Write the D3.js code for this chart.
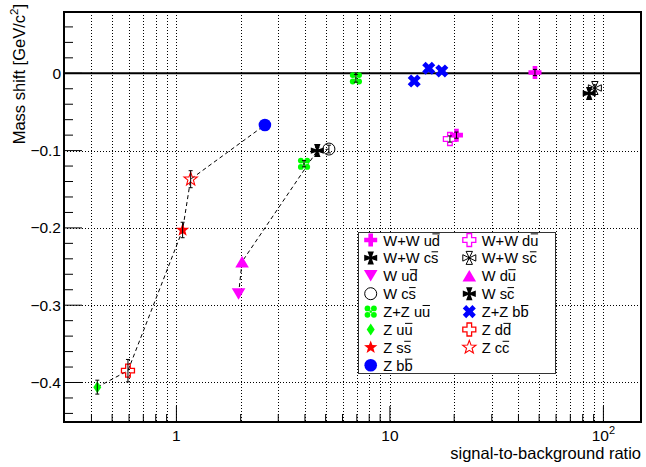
<!DOCTYPE html>
<html><head><meta charset="utf-8">
<script src="https://cdn.jsdelivr.net/npm/d3@7"></script>
<style>
body{margin:0;background:#fff}
svg{display:block}
text{font-family:"Liberation Sans",Arial,Helvetica,sans-serif;fill:#000}
</style>
</head><body>
<svg id="c" width="646" height="467"></svg>
<script>
// ---------------- data ----------------
// legend entries (row-major: left column, right column); {x} = overlined character
const seriesLabels = ["W+W u{d}","W+W d{u}","W+W c{s}","W+W s{c}","W u{d}","W d{u}","W c{s}","W s{c}",
                      "Z+Z u{u}","Z+Z b{b}","Z u{u}","Z d{d}","Z s{s}","Z c{c}","Z b{b}"];
const seriesMarkers = ["fullcross","opencross","pattee","openpattee","tridown","triup","opencircle","pattee",
                       "clover","xcross","diamond","opencross","star","openstar","circle"];
const seriesColors = ["#ff00ff","#ff00ff","#000000","#000000","#ff00ff","#ff00ff","#000000","#000000",
                      "#00ff00","#0000ff","#00ff00","#ff0000","#ff0000","#ff0000","#0000ff"];

// points: series index, signal-to-background ratio, mass shift, error
const pointSeries  = [0, 0, 1, 2, 3, 4, 5, 6, 7, 8, 8, 9, 9, 9, 10, 11, 12, 13, 14];
const sbRatio      = [20.5, 47.8, 19.1, 85.8, 91.2, 1.955, 2.03, 5.18, 4.57, 3.96, 6.93, 13.0, 15.2, 17.5, 0.426, 0.593, 1.069, 1.166, 2.597];
const massShift    = [-0.080, 0.001, -0.085, -0.026, -0.019, -0.2855, -0.2437, -0.098, -0.100, -0.117, -0.0065, -0.010, 0.0065, 0.003, -0.406, -0.3847, -0.2027, -0.137, -0.0669];
const massShiftErr = [0.004, 0.004, 0.004, 0.005, 0.004, 0, 0, 0.005, 0.004, 0.004, 0.005, 0, 0, 0, 0.009, 0.0145, 0.010, 0.011, 0];

// dashed connecting lines (series order)
const zLineSeries = [10, 11, 12, 13, 14];
const wLineSeries = [4, 5, 7, 6];

const xGridValues = [0.4,0.5,0.6,0.7,0.8,0.9,1,2,3,4,5,6,7,8,9,10,20,30,40,50,60,70,80,90,100];
const xMajorTicks = [1, 10, 100];
const xTickLabels = ["1", "10", "10^2"];
const yMajorTicks = [0, -0.1, -0.2, -0.3, -0.4];
const yTickLabels = ["0", "\u22120.1", "\u22120.2", "\u22120.3", "\u22120.4"];

// ---------------- chart ----------------
const svg = d3.select("#c");
const L = 64, R = 641, T = 12, B = 422;
const x = d3.scaleLog().domain([0.2975, 150]).range([L, R]);
const y = d3.scaleLinear().domain([-0.4511, 0.0793]).range([B, T]);

// grid
const grid = svg.append("g").attr("stroke", "#000").attr("stroke-width", 1).attr("stroke-dasharray", "1,2");
grid.selectAll("line.v").data(xGridValues).join("line")
  .attr("x1", d => Math.round(x(d)) + 0.5).attr("x2", d => Math.round(x(d)) + 0.5)
  .attr("y1", T).attr("y2", B);
grid.selectAll("line.h").data(yMajorTicks).join("line")
  .attr("x1", L).attr("x2", R)
  .attr("y1", d => Math.round(y(d)) + 0.5).attr("y2", d => Math.round(y(d)) + 0.5);

// zero line
svg.append("line").attr("x1", L).attr("x2", R).attr("y1", y(0)).attr("y2", y(0))
  .attr("stroke", "#000").attr("stroke-width", 2);

// axis ticks
const ticks = svg.append("g").attr("stroke", "#000").attr("stroke-width", 1);
const xAllTicks = d3.range(3, 10).map(d => d / 10).concat(d3.range(1, 10), d3.range(10, 100, 10), [100]).filter(d => x(d) > L + 1);
ticks.selectAll("line.xt").data(xAllTicks).join("line")
  .attr("x1", d => x(d)).attr("x2", d => x(d))
  .attr("y1", B).attr("y2", d => B - (xMajorTicks.includes(d) ? 16 : 8));
const yMinor = d3.range(-22, 4).map(i => i * 0.02);
ticks.selectAll("line.yt").data(yMinor).join("line")
  .attr("y1", d => y(d)).attr("y2", d => y(d))
  .attr("x1", L).attr("x2", d => L + (Math.abs(Math.round(d * 10) - d * 10) < 1e-6 ? 18 : 9));

// tick labels
xMajorTicks.forEach((v, i) => {
  const t = svg.append("text").attr("x", x(v)).attr("y", 441).attr("text-anchor", "middle").attr("font-size", 15.5);
  const parts = xTickLabels[i].split("^");
  t.append("tspan").text(parts[0]);
  if (parts[1]) t.append("tspan").attr("dy", -7).attr("font-size", 11).text(parts[1]);
});
yMajorTicks.forEach((v, i) => {
  svg.append("text").attr("x", 61).attr("y", y(v) + 5.5).attr("text-anchor", "end")
    .attr("font-size", 15.5).text(yTickLabels[i]);
});

// axis titles
svg.append("text").attr("x", 641).attr("y", 459).attr("text-anchor", "end").attr("font-size", 16.5)
  .text("signal-to-background ratio");
const yt = svg.append("text").attr("transform", "translate(25,4) rotate(-90)")
  .attr("text-anchor", "end").attr("font-size", 16.5);
yt.append("tspan").text("Mass shift [GeV/c");
yt.append("tspan").attr("dy", -7).attr("font-size", 11.5).text("2");
yt.append("tspan").attr("dy", 7).text("]");

// dashed lines
const lineGen = d3.line().x(d => x(d[0])).y(d => y(d[1]));
[zLineSeries, wLineSeries].forEach(list => {
  const pts = [];
  list.forEach(s => pointSeries.forEach((ps, i) => { if (ps === s) pts.push([sbRatio[i], massShift[i]]); }));
  svg.append("path").attr("d", lineGen(pts)).attr("fill", "none")
    .attr("stroke", "#000").attr("stroke-width", 1).attr("stroke-dasharray", "4,3");
});

// marker drawing
function poly(pts) { return "M" + pts.map(p => p.join(",")).join("L") + "Z"; }
const crossPts = [[-2.3,-6.5],[2.3,-6.5],[2.3,-2.3],[6.5,-2.3],[6.5,2.3],[2.3,2.3],[2.3,6.5],[-2.3,6.5],[-2.3,2.3],[-6.5,2.3],[-6.5,-2.3],[-2.3,-2.3]];
const patteePts = [[-1.3,-1.3],[-3.2,-6.5],[3.2,-6.5],[1.3,-1.3],[6.5,-3.2],[6.5,3.2],[1.3,1.3],[3.2,6.5],[-3.2,6.5],[-1.3,1.3],[-6.5,3.2],[-6.5,-3.2]];
function starPts(ro, ri) {
  const p = [];
  for (let k = 0; k < 10; k++) {
    const a = -Math.PI / 2 + k * Math.PI / 5, r = k % 2 ? ri : ro;
    p.push([+(r * Math.cos(a)).toFixed(2), +(r * Math.sin(a)).toFixed(2)]);
  }
  return p;
}
function drawMarker(g, type, color, cx, cy) {
  const m = g.append("g").attr("transform", `translate(${cx},${cy})`);
  switch (type) {
    case "fullcross": m.append("path").attr("d", poly(crossPts)).attr("fill", color); break;
    case "opencross": m.append("path").attr("d", poly(crossPts)).attr("fill", "none").attr("stroke", color).attr("stroke-width", 1.3); break;
    case "pattee": m.append("path").attr("d", poly(patteePts)).attr("fill", color); break;
    case "openpattee": {
      const tri = [[[0,0],[-3.2,-6.5],[3.2,-6.5]],[[0,0],[6.5,-3.2],[6.5,3.2]],[[0,0],[3.2,6.5],[-3.2,6.5]],[[0,0],[-6.5,3.2],[-6.5,-3.2]]];
      m.append("path").attr("d", tri.map(poly).join("")).attr("fill", "none").attr("stroke", color).attr("stroke-width", 1);
      break;
    }
    case "tridown": m.append("path").attr("d", poly([[-6.8,-5.7],[6.8,-5.7],[0,5.7]])).attr("fill", color); break;
    case "triup": m.append("path").attr("d", poly([[-6.8,5.7],[6.8,5.7],[0,-5.7]])).attr("fill", color); break;
    case "circle": m.append("circle").attr("r", 6.3).attr("fill", color); break;
    case "opencircle": m.append("circle").attr("r", 6).attr("fill", "none").attr("stroke", color).attr("stroke-width", 1); break;
    case "diamond": m.append("path").attr("d", poly([[0,-6],[4,0],[0,6],[-4,0]])).attr("fill", color); break;
    case "star": m.append("path").attr("d", poly(starPts(7, 2.9))).attr("fill", color); break;
    case "openstar": m.append("path").attr("d", poly(starPts(7, 2.9))).attr("fill", "none").attr("stroke", color).attr("stroke-width", 1.1); break;
    case "clover":
      [[-3.2,-3.2],[3.2,-3.2],[-3.2,3.2],[3.2,3.2]].forEach(p => m.append("circle").attr("cx", p[0]).attr("cy", p[1])
        .attr("r", 2.9).attr("fill", color));
      m.append("rect").attr("x", -1.2).attr("y", -1.2).attr("width", 2.4).attr("height", 2.4).attr("fill", color);
      break;
    case "xcross": m.append("path").attr("d", poly(crossPts.map(p => [p[0]*1.05, p[1]*1.05]))).attr("fill", color).attr("transform", "rotate(45)"); break;
  }
}

// markers
const mg = svg.append("g");
pointSeries.forEach((s, i) => drawMarker(mg, seriesMarkers[s], seriesColors[s], x(sbRatio[i]), y(massShift[i])));

// error bars
const eg = svg.append("g").attr("stroke", "#000").attr("stroke-width", 1);
pointSeries.forEach((s, i) => {
  const e = massShiftErr[i];
  if (!e) return;
  const cx = x(sbRatio[i]), y1 = y(massShift[i] + e), y2 = y(massShift[i] - e);
  eg.append("line").attr("x1", cx).attr("x2", cx).attr("y1", y1).attr("y2", y2);
  eg.append("line").attr("x1", cx - 2).attr("x2", cx + 2).attr("y1", y1).attr("y2", y1);
  eg.append("line").attr("x1", cx - 2).attr("x2", cx + 2).attr("y1", y2).attr("y2", y2);
});

// frame
svg.append("rect").attr("x", L).attr("y", T).attr("width", R - L).attr("height", B - T)
  .attr("fill", "none").attr("stroke", "#000").attr("stroke-width", 2);

// rich text with overlines
function richText(g, tx, ty, str, size) {
  const t = g.append("text").attr("x", tx).attr("y", ty).attr("font-size", size);
  const bars = [];
  let idx = 0;
  const re = /\{([^}]*)\}|([^{]+)/g;
  let m;
  while ((m = re.exec(str))) {
    if (m[1] !== undefined) { t.append("tspan").text(m[1]); for (let k = 0; k < m[1].length; k++) bars.push(idx + k); idx += m[1].length; }
    else { t.append("tspan").text(m[2]); idx += m[2].length; }
  }
  const node = t.node();
  bars.forEach(ci => {
    const ext = node.getExtentOfChar(ci);
    g.append("line").attr("x1", ext.x + 0.5).attr("x2", ext.x + ext.width - 0.3)
      .attr("y1", ty - 0.79 * size).attr("y2", ty - 0.79 * size)
      .attr("stroke", "#000").attr("stroke-width", 1);
  });
}

// legend
const lg = svg.append("g");
lg.append("rect").attr("x", 358.5).attr("y", 232.5).attr("width", 197).attr("height", 141)
  .attr("fill", "#fff").attr("stroke", "#333").attr("stroke-width", 1);
seriesLabels.forEach((lab, i) => {
  const col = i % 2, row = Math.floor(i / 2);
  const cy = 240 + row * 17.9;
  const mx = col ? 469.3 : 370.7, tx = col ? 481.7 : 383.3;
  drawMarker(lg, seriesMarkers[i], seriesColors[i], mx, cy);
  richText(lg, tx, cy + 5.5, lab, 14.7);
});
</script>
</body></html>
